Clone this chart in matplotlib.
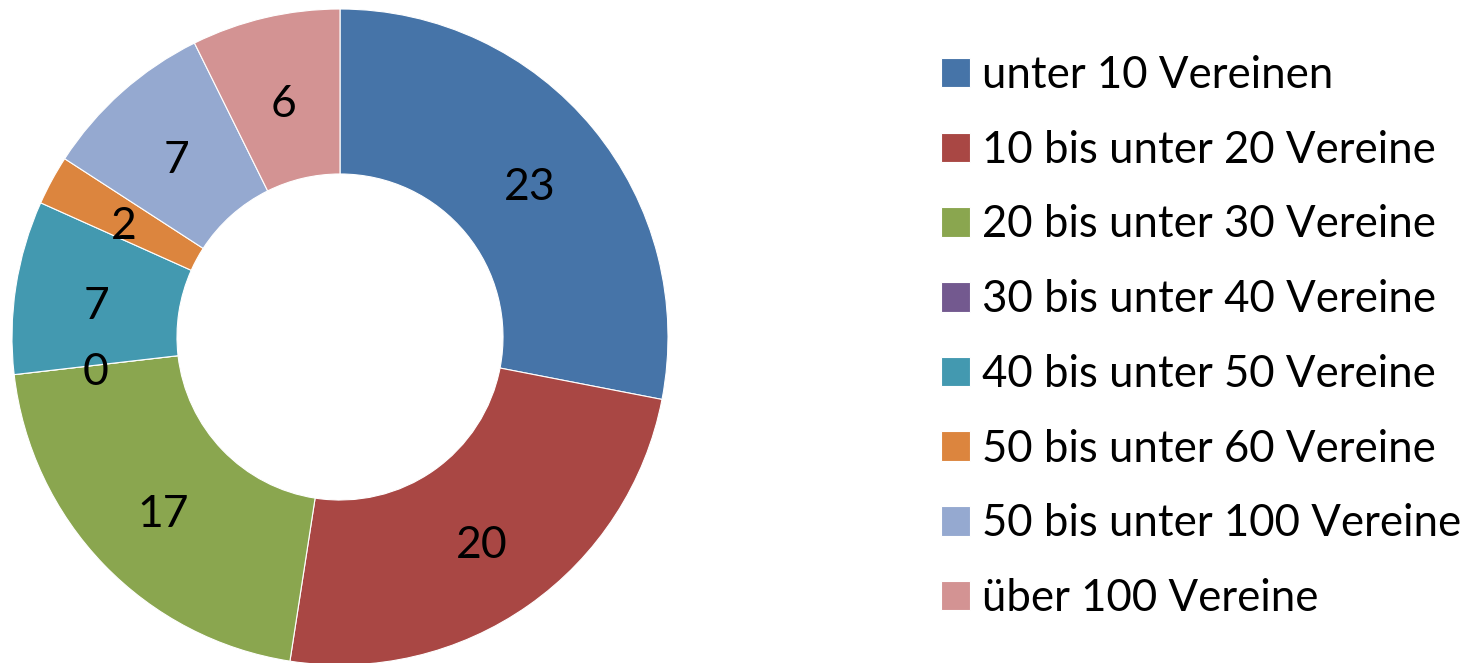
import matplotlib
matplotlib.use("Agg")
import matplotlib.pyplot as plt
from matplotlib.transforms import offset_copy

categories = ["unter 10 Vereinen", "10 bis unter 20 Vereine", "20 bis unter 30 Vereine",
              "30 bis unter 40 Vereine", "40 bis unter 50 Vereine", "50 bis unter 60 Vereine",
              "50 bis unter 100 Vereine", "über 100 Vereine"]
values = [23, 20, 17, 0, 7, 2, 7, 6]
colors = ["#4674A8", "#A94744", "#8AA64F", "#73598F", "#4399B0", "#DC853E", "#95A9D0", "#D39393"]

plt.rcParams['font.family'] = ['Lato', 'DejaVu Sans']

W, H = 1478, 663
fig = plt.figure(figsize=(W / 100, H / 100), dpi=100)
ax = fig.add_axes([12 / W, -2 / H, 656 / W, 656 / H])
total = sum(values)

wedges, texts, autotexts = ax.pie(
    values, colors=colors, startangle=90, counterclock=False, radius=1.0,
    wedgeprops=dict(width=0.503, edgecolor="white", linewidth=0.8),
    autopct=lambda p: f"{round(p * total / 100):d}", pctdistance=0.75,
    textprops=dict(fontsize=32, color="black"))
for t in autotexts:
    t.set_transform(offset_copy(t.get_transform(), fig=fig, x=0, y=-7, units="dots"))
ax.set_xlim(-1, 1)
ax.set_ylim(-1, 1)
ax.set_aspect("equal")
ax.axis("off")

fig.legend(wedges, categories, loc="center left",
           bbox_to_anchor=(941 / W, 1 - 337 / H), frameon=False, fontsize=31.5,
           handlelength=0.66, handleheight=0.66, handletextpad=0.27,
           labelspacing=0.77, borderpad=0, borderaxespad=0)

fig.savefig("out.png", dpi=100)
